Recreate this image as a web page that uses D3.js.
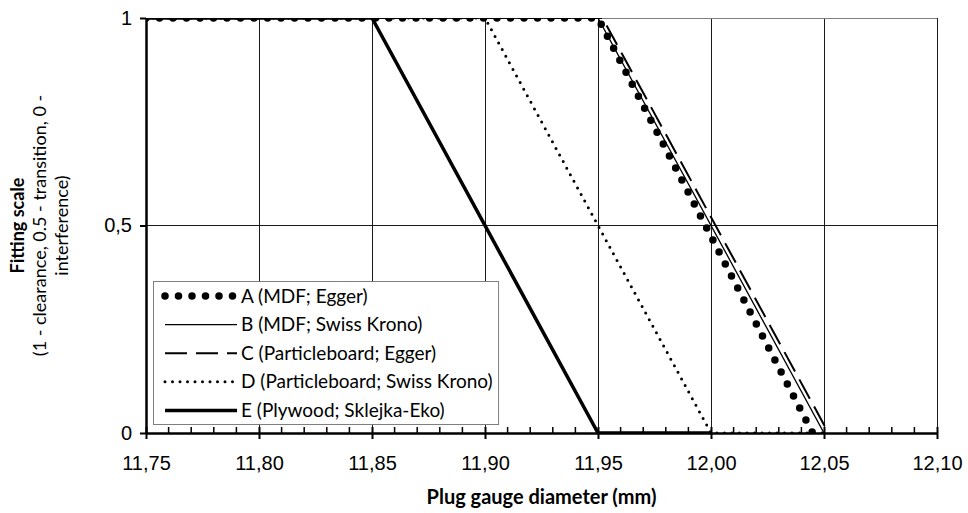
<!DOCTYPE html>
<html>
<head>
<meta charset="utf-8">
<script src="https://cdn.jsdelivr.net/npm/d3@7"></script>
<style>
  body { margin: 0; background: #fff; }
  svg { font-family: Lato, "Open Sans", sans-serif; }
</style>
</head>
<body>
<svg id="chart" width="968" height="513"></svg>
<script>
// tick values
const xTicks = [11.75, 11.80, 11.85, 11.90, 11.95, 12.00, 12.05, 12.10];
const xMinorTicks = d3.range(0, 36).map(i => +(11.75 + i * 0.01).toFixed(2));
const yTicks = [0, 0.5, 1];

// series (x = plug gauge diameter, y = fitting scale)
const seriesA_x = [11.75, 11.95, 12.045];
const seriesA_y = [1, 1, 0];
const seriesB_x = [11.75, 11.95, 12.05];
const seriesB_y = [1, 1, 0];
const seriesC_x = [11.75, 11.952, 12.052];
const seriesC_y = [1, 1, 0];
const seriesD_x = [11.75, 11.90, 12.00, 12.05];
const seriesD_y = [1, 1, 0, 0];
const seriesE_x = [11.75, 11.85, 11.95, 12.00];
const seriesE_y = [1, 1, 0, 0];

const seriesNames = [
    "A (MDF; Egger)",
    "B (MDF; Swiss Krono)",
    "C (Particleboard; Egger)",
    "D (Particleboard; Swiss Krono)",
    "E (Plywood; Sklejka-Eko)"
];

const styles = [
    {width: 7.5, dash: "0,13.5", cap: "round"},
    {width: 1.3, dash: null, cap: "butt"},
    {width: 2, dash: "22,9", cap: "butt"},
    {width: 3, dash: "0,7.5", cap: "round"},
    {width: 3.5, dash: null, cap: "butt"}
];

const series = [
    [seriesA_x, seriesA_y],
    [seriesB_x, seriesB_y],
    [seriesC_x, seriesC_y],
    [seriesD_x, seriesD_y],
    [seriesE_x, seriesE_y]
].map(([xs, ys]) => xs.map((x, i) => ({x: x, y: ys[i]})));

const svg = d3.select("#chart");
const plot = {left: 146, right: 937, top: 18, bottom: 433};

const x = d3.scaleLinear().domain([11.75, 12.10]).range([plot.left, plot.right]);
const y = d3.scaleLinear().domain([0, 1]).range([plot.bottom, plot.top]);

const fmtX = v => v.toFixed(2).replace(".", ",");
const fmtY = v => String(v).replace(".", ",");

svg.append("clipPath").attr("id", "plot-clip")
    .append("rect")
    .attr("x", plot.left).attr("y", plot.top)
    .attr("width", plot.right - plot.left).attr("height", plot.bottom - plot.top);

// gridlines
const grid = svg.append("g").attr("stroke", "#1a1a1a").attr("stroke-width", 1)
    .attr("shape-rendering", "crispEdges");
grid.selectAll(".gx").data(xTicks.slice(1)).join("line")
    .attr("x1", d => x(d)).attr("x2", d => x(d))
    .attr("y1", plot.top).attr("y2", plot.bottom);
grid.selectAll(".gy").data(yTicks.slice(1)).join("line")
    .attr("x1", plot.left).attr("x2", plot.right)
    .attr("y1", d => y(d)).attr("y2", d => y(d))
    .attr("stroke", d => d === 1 ? "#7f7f7f" : "#1a1a1a");

// series lines
const line = d3.line().x(d => x(d.x)).y(d => y(d.y));
const lines = svg.append("g").attr("clip-path", "url(#plot-clip)");
series.forEach((data, i) => {
    lines.append("path")
        .datum(data)
        .attr("fill", "none")
        .attr("stroke", "#000")
        .attr("stroke-width", styles[i].width)
        .attr("stroke-dasharray", styles[i].dash)
        .attr("stroke-linecap", styles[i].cap)
        .attr("stroke-linejoin", "round")
        .attr("d", line);
});

// x axis
const xAxis = svg.append("g")
    .attr("transform", `translate(0,${plot.bottom})`)
    .call(d3.axisBottom(x).tickValues(xTicks).tickFormat(fmtX).tickSize(6).tickSizeOuter(0));
xAxis.select(".domain").attr("stroke", "#000").attr("stroke-width", 2.5);
xAxis.selectAll(".tick line").attr("stroke", "#000").attr("stroke-width", 2)
    .attr("y1", -6).attr("y2", 6);
xAxis.selectAll(".tick text")
    .attr("y", 23).attr("dy", "0.71em")
    .style("font-size", "20px").style("fill", "#000");

svg.append("g").attr("stroke", "#000").attr("stroke-width", 1.5)
    .selectAll("line")
    .data(xMinorTicks.filter(v => !xTicks.some(t => Math.abs(t - v) < 1e-6)))
    .join("line")
    .attr("x1", d => x(d)).attr("x2", d => x(d))
    .attr("y1", plot.bottom).attr("y2", plot.bottom - 6);

// y axis
const yAxis = svg.append("g")
    .attr("transform", `translate(${plot.left},0)`)
    .call(d3.axisLeft(y).tickValues(yTicks).tickFormat(fmtY).tickSize(6).tickSizeOuter(0));
yAxis.select(".domain").attr("stroke", "#000").attr("stroke-width", 2.5);
yAxis.selectAll(".tick line").attr("stroke", "#000").attr("stroke-width", 2);
yAxis.selectAll(".tick text")
    .attr("x", -14)
    .style("font-size", "20px").style("fill", "#000");

// axis titles
svg.append("text")
    .attr("x", (plot.left + plot.right) / 2)
    .attr("y", 504)
    .attr("text-anchor", "middle")
    .style("font-size", "20px").style("font-weight", "bold")
    .text("Plug gauge diameter (mm)");

const yTitle = svg.append("text")
    .attr("transform", `translate(0,${(plot.top + plot.bottom) / 2}) rotate(-90)`)
    .attr("text-anchor", "middle")
    .style("font-size", "18px");
yTitle.append("tspan").attr("x", 0).attr("y", 24).style("font-weight", "bold").text("Fitting scale");
yTitle.append("tspan").attr("x", 0).attr("y", 46).text("(1 - clearance, 0.5 - transition, 0 -");
yTitle.append("tspan").attr("x", 0).attr("y", 68).text("interference)");

// legend
const legend = svg.append("g");
const legendBox = legend.append("rect")
    .attr("x", 153.5).attr("y", 281.5)
    .attr("height", 143)
    .attr("fill", "#fff").attr("stroke", "#7f7f7f").attr("stroke-width", 1);
let maxW = 0;
seriesNames.forEach((name, i) => {
    const cy = 296 + i * 28.6;
    legend.append("line")
        .attr("x1", 165).attr("x2", 237)
        .attr("y1", cy).attr("y2", cy)
        .attr("stroke", "#000")
        .attr("stroke-width", styles[i].width)
        .attr("stroke-dasharray", styles[i].dash)
        .attr("stroke-linecap", styles[i].cap);
    const t = legend.append("text")
        .attr("x", 241).attr("y", cy).attr("dy", "0.35em")
        .style("font-size", "19px")
        .text(name);
    maxW = Math.max(maxW, t.node().getComputedTextLength());
});
legendBox.attr("width", 241 + maxW + 6 - 153.5);
</script>
</body>
</html>
